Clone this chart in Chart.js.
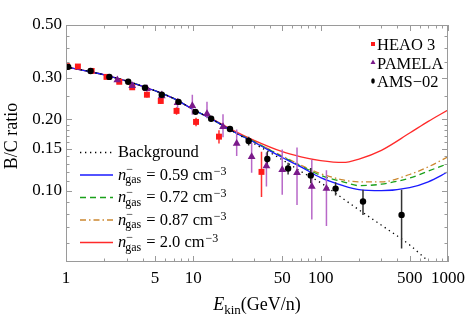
<!DOCTYPE html>
<html>
<head>
<meta charset="utf-8">
<script src="https://cdn.jsdelivr.net/npm/chart.js@4.4.0/dist/chart.umd.min.js"></script>
<style>
    html, body { margin: 0; padding: 0; background: #fff; }
    #grafico { display: block; }
</style>
</head>
<body>
<canvas id="grafico" width="471" height="315"></canvas>
<script>
// curvas teoricas
const energiaCurvas = [1, 1.5, 2, 3, 5, 7, 10, 15, 20, 30, 50, 70, 100, 150, 200, 300, 500, 700, 1000];
const bcFundo = [0.333, 0.319, 0.308, 0.290, 0.264, 0.245, 0.220, 0.196, 0.179, 0.158, 0.135, 0.1205, 0.108, 0.0925, 0.083, 0.0715, 0.059, 0.0505, 0.044];
const bcN059 = [0.333, 0.319, 0.308, 0.290, 0.264, 0.245, 0.220, 0.196, 0.179, 0.160, 0.138, 0.126, 0.1135, 0.105, 0.101, 0.100, 0.103, 0.109, 0.120];
const bcN072 = [0.333, 0.319, 0.308, 0.290, 0.264, 0.245, 0.220, 0.196, 0.179, 0.161, 0.139, 0.127, 0.116, 0.109, 0.105, 0.1065, 0.113, 0.121, 0.130];
const bcN087 = [0.333, 0.319, 0.308, 0.290, 0.264, 0.245, 0.220, 0.196, 0.179, 0.161, 0.140, 0.128, 0.118, 0.111, 0.109, 0.109, 0.117, 0.126, 0.139];
const bcN20 = [0.333, 0.319, 0.308, 0.290, 0.264, 0.245, 0.220, 0.197, 0.181, 0.163, 0.146, 0.139, 0.134, 0.1315, 0.136, 0.148, 0.175, 0.196, 0.219];

// HEAO 3
const energiaHeao = [1.02, 1.24, 1.59, 2.08, 2.62, 3.31, 4.32, 5.55, 7.38, 10.5, 15.9, 34.3];
const bcHeao = [0.335, 0.334, 0.320, 0.302, 0.288, 0.273, 0.254, 0.239, 0.217, 0.195, 0.169, 0.120];
const erroHeao = [0.006, 0.006, 0.006, 0.006, 0.006, 0.006, 0.007, 0.007, 0.008, 0.008, 0.011, 0.026];

// PAMELA
const energiaPamela = [2.53, 3.31, 4.32, 5.65, 7.52, 9.82, 12.8, 17.1, 21.9, 28.7, 37.5, 49.9, 65.2, 85.2, 111];
const bcPamela = [0.293, 0.277, 0.269, 0.251, 0.235, 0.228, 0.211, 0.186, 0.158, 0.139, 0.127, 0.1225, 0.119, 0.104, 0.102];
const baixoPamela = [0.285, 0.268, 0.258, 0.240, 0.218, 0.209, 0.202, 0.168, 0.140, 0.119, 0.104, 0.096, 0.087, 0.0755, 0.071];
const altoPamela = [0.302, 0.287, 0.280, 0.264, 0.246, 0.254, 0.237, 0.210, 0.181, 0.159, 0.145, 0.149, 0.152, 0.135, 0.122];

// AMS-02
const energiaAms = [1.04, 1.56, 2.19, 3.08, 4.17, 5.65, 7.65, 10.4, 13.8, 19.4, 27.2, 38.1, 55.5, 83.6, 131, 215, 432];
const bcAms = [0.333, 0.320, 0.302, 0.288, 0.272, 0.254, 0.237, 0.215, 0.201, 0.182, 0.162, 0.136, 0.124, 0.116, 0.102, 0.090, 0.079];
const erroAms = [0.005, 0.005, 0.005, 0.005, 0.005, 0.005, 0.005, 0.005, 0.005, 0.005, 0.007, 0.010, 0.007, 0.0085, 0.0065, 0.011, 0.022];

// eixos
const rotulosX = [1, 5, 10, 50, 100, 500, 1000];
const ticksX = [1, 2, 3, 4, 5, 6, 7, 8, 9, 10, 20, 30, 40, 50, 60, 70, 80, 90, 100, 200, 300, 400, 500, 600, 700, 800, 900, 1000];
const rotulosY = [0.10, 0.15, 0.20, 0.30, 0.50];
const ticksY = [0.06, 0.07, 0.08, 0.09, 0.10, 0.11, 0.12, 0.13, 0.14, 0.15, 0.16, 0.17, 0.18, 0.19, 0.20, 0.25, 0.30, 0.35, 0.40, 0.45, 0.50];

const fonte = '"Liberation Serif", "DejaVu Serif", serif';

function pontos(xs, ys) {
    return xs.map((x, i) => ({x: x, y: ys[i]}));
}

function barrasErro(xs, baixos, altos) {
    let dados = [];
    xs.forEach((x, i) => {
        dados.push({x: x, y: baixos[i]}, {x: x, y: altos[i]}, {x: x, y: null});
    });
    return dados;
}

function escrever(ctx, str, x, y, tam, italico) {
    ctx.font = (italico ? 'italic ' : '') + tam + 'px ' + fonte;
    ctx.fillText(str, x, y);
    return ctx.measureText(str).width;
}

const pluginMoldura = {
    id: 'moldura',
    afterDraw(chart) {
        const ctx = chart.ctx;
        const a = chart.chartArea;
        const sx = chart.scales.x;
        const sy = chart.scales.y;
        ctx.save();
        ctx.strokeStyle = '#9a9a9a';
        ctx.lineWidth = 1;
        ctx.strokeRect(a.left + 0.5, a.top + 0.5, a.right - a.left - 1, a.bottom - a.top - 1);
        ctx.beginPath();
        ticksX.forEach((v) => {
            const px = Math.round(sx.getPixelForValue(v)) + 0.5;
            const tam = rotulosX.includes(v) ? 6 : 3.5;
            ctx.moveTo(px, a.bottom);
            ctx.lineTo(px, a.bottom - tam);
            ctx.moveTo(px, a.top);
            ctx.lineTo(px, a.top + tam);
        });
        ticksY.forEach((v) => {
            const py = Math.round(sy.getPixelForValue(v)) + 0.5;
            const tam = rotulosY.includes(v) ? 6 : 3.5;
            ctx.moveTo(a.left, py);
            ctx.lineTo(a.left + tam, py);
            ctx.moveTo(a.right, py);
            ctx.lineTo(a.right - tam, py);
        });
        ctx.stroke();

        // titulos dos eixos
        ctx.fillStyle = '#000';
        ctx.textBaseline = 'alphabetic';
        ctx.textAlign = 'left';
        ctx.font = '18px ' + fonte;
        const wE = (() => { ctx.font = 'italic 18px ' + fonte; return ctx.measureText('E').width; })();
        const wKin = (() => { ctx.font = '13px ' + fonte; return ctx.measureText('kin').width; })();
        const wUn = (() => { ctx.font = '18px ' + fonte; return ctx.measureText('(GeV/n)').width; })();
        let x0 = (a.left + a.right) / 2 - (wE + wKin + wUn) / 2;
        escrever(ctx, 'E', x0, 310, 18, true);
        escrever(ctx, 'kin', x0 + wE, 314, 13);
        escrever(ctx, '(GeV/n)', x0 + wE + wKin, 310, 18);

        ctx.save();
        ctx.translate(17, 136);
        ctx.rotate(-Math.PI / 2);
        ctx.textAlign = 'center';
        escrever(ctx, 'B/C ratio', 0, 0, 18);
        ctx.restore();

        // legenda das curvas
        const linhasLegenda = [
            {ds: 3, rotulo: null},
            {ds: 4, rotulo: '0.59'},
            {ds: 5, rotulo: '0.72'},
            {ds: 6, rotulo: '0.87'},
            {ds: 7, rotulo: '2.0'}
        ];
        linhasLegenda.forEach((item, i) => {
            const ds = chart.data.datasets[item.ds];
            const y = 152.5 + i * 22.5;
            ctx.beginPath();
            ctx.strokeStyle = ds.borderColor;
            ctx.lineWidth = ds.borderWidth;
            ctx.setLineDash(ds.borderDash || []);
            ctx.moveTo(80, y);
            ctx.lineTo(113, y);
            ctx.stroke();
            ctx.setLineDash([]);
            const yb = y + 4.5;
            if (item.rotulo === null) {
                escrever(ctx, 'Background', 118, yb, 16.5);
            } else {
                const wn = escrever(ctx, 'n', 118, yb, 16.5, true);
                const xs = 118 + wn - 1;
                const wg = escrever(ctx, 'gas', xs, yb + 3.5, 12);
                escrever(ctx, '\u2212', xs + 1, yb - 6.5, 12);
                let xx = xs + wg + 5;
                xx += escrever(ctx, '= ' + item.rotulo + ' cm', xx, yb, 16.5);
                escrever(ctx, '\u22123', xx + 1, yb - 5, 12);
            }
        });

        // legenda dos experimentos
        const xm = 373;
        ctx.fillStyle = '#ff1a1a';
        ctx.fillRect(xm - 2, 44 - 2, 4, 4);
        ctx.fillStyle = '#7a1a8a';
        ctx.beginPath();
        ctx.moveTo(xm, 59.5);
        ctx.lineTo(xm + 2.5, 64);
        ctx.lineTo(xm - 2.5, 64);
        ctx.closePath();
        ctx.fill();
        ctx.fillStyle = '#000';
        ctx.beginPath();
        ctx.ellipse(xm, 81, 1.8, 2.8, 0, 0, Math.PI * 2);
        ctx.fill();
        escrever(ctx, 'HEAO 3', 377, 50, 16.5);
        escrever(ctx, 'PAMELA', 377, 68.5, 16.5);
        escrever(ctx, 'AMS\u221202', 377, 87, 16.5);
        ctx.restore();
    }
};

const linhaBase = {
    type: 'line',
    pointRadius: 0,
    borderWidth: 1.3,
    fill: false,
    cubicInterpolationMode: 'monotone'
};

new Chart(document.getElementById('grafico'), {
    type: 'line',
    data: {
        datasets: [
            {label: 'AMS-02', data: pontos(energiaAms, bcAms), showLine: false, pointStyle: 'circle', pointRadius: 3.2, backgroundColor: '#000', borderWidth: 0, order: 0},
            {label: 'PAMELA', data: pontos(energiaPamela, bcPamela), showLine: false, pointStyle: 'triangle', pointRadius: 4.5, backgroundColor: '#7a1a8a', borderWidth: 0, order: 1},
            {label: 'HEAO 3', data: pontos(energiaHeao, bcHeao), showLine: false, pointStyle: 'rect', pointRadius: 4.2, backgroundColor: '#ff1a1a', borderWidth: 0, order: 2},
            Object.assign({}, linhaBase, {label: 'Background', data: pontos(energiaCurvas, bcFundo), borderColor: '#000', borderDash: [1.3, 3.7], order: 6}),
            Object.assign({}, linhaBase, {label: 'n 0.59', data: pontos(energiaCurvas, bcN059), borderColor: '#1a1aff', order: 7}),
            Object.assign({}, linhaBase, {label: 'n 0.72', data: pontos(energiaCurvas, bcN072), borderColor: '#1aa01a', borderDash: [6, 4], order: 8}),
            Object.assign({}, linhaBase, {label: 'n 0.87', data: pontos(energiaCurvas, bcN087), borderColor: '#cc8830', borderDash: [6, 3, 1.5, 3], order: 9}),
            Object.assign({}, linhaBase, {label: 'n 2.0', data: pontos(energiaCurvas, bcN20), borderColor: '#ff2a2a', order: 10}),
            {label: 'erro AMS', data: barrasErro(energiaAms, bcAms.map((v, i) => v - erroAms[i]), bcAms.map((v, i) => v + erroAms[i])), borderColor: '#333', borderWidth: 1.5, pointRadius: 0, spanGaps: false, order: 3},
            {label: 'erro PAMELA', data: barrasErro(energiaPamela, baixoPamela, altoPamela), borderColor: '#b868c8', borderWidth: 1.5, pointRadius: 0, spanGaps: false, order: 4},
            {label: 'erro HEAO', data: barrasErro(energiaHeao, bcHeao.map((v, i) => v - erroHeao[i]), bcHeao.map((v, i) => v + erroHeao[i])), borderColor: '#ff3030', borderWidth: 1.5, pointRadius: 0, spanGaps: false, order: 5}
        ]
    },
    options: {
        responsive: false,
        animation: false,
        events: [],
        layout: {padding: {top: 25, right: 19, left: 0, bottom: 0}},
        plugins: {
            legend: {display: false},
            tooltip: {enabled: false}
        },
        scales: {
            x: {
                type: 'logarithmic',
                min: 1,
                max: 1000,
                grid: {display: false, drawTicks: false},
                border: {display: false},
                afterBuildTicks: (scale) => { scale.ticks = ticksX.map((v) => ({value: v})); },
                afterFit: (scale) => { scale.height = 53; },
                ticks: {
                    autoSkip: false,
                    maxRotation: 0,
                    padding: 6,
                    color: '#000',
                    font: {family: fonte, size: 17},
                    callback: (v) => rotulosX.includes(v) ? String(v) : ''
                }
            },
            y: {
                type: 'logarithmic',
                min: 0.05,
                max: 0.5,
                grid: {display: false, drawTicks: false},
                border: {display: false},
                afterBuildTicks: (scale) => { scale.ticks = ticksY.map((v) => ({value: v})); },
                afterFit: (scale) => { scale.width = 66; },
                ticks: {
                    autoSkip: false,
                    padding: 4,
                    color: '#000',
                    font: {family: fonte, size: 17},
                    callback: (v) => rotulosY.includes(v) ? v.toFixed(2) : ''
                }
            }
        }
    },
    plugins: [pluginMoldura]
});
</script>
</body>
</html>
